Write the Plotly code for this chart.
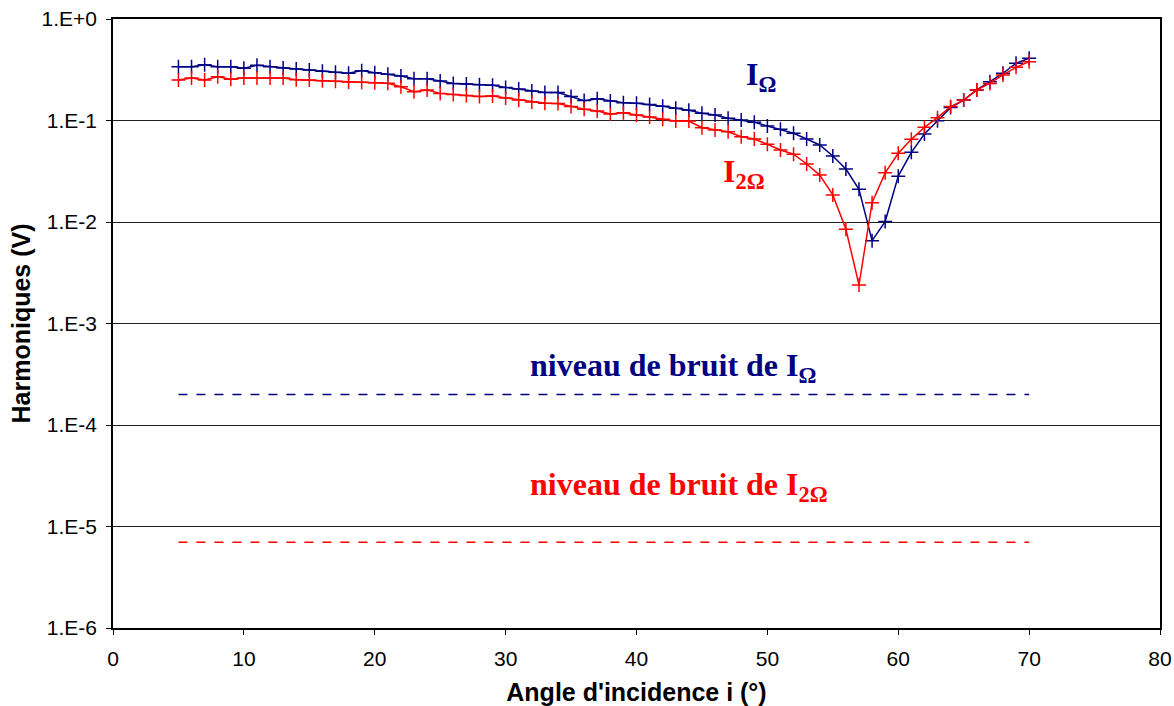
import plotly.graph_objects as go

angles = list(range(5, 71))

i_omega = [0.339, 0.339, 0.355, 0.339, 0.339, 0.327, 0.350, 0.339, 0.329, 0.322,
           0.315, 0.305, 0.298, 0.292, 0.310, 0.296, 0.285, 0.274, 0.258, 0.258,
           0.245, 0.232, 0.229, 0.225, 0.222, 0.212, 0.204, 0.195, 0.189, 0.189,
           0.172, 0.157, 0.164, 0.156, 0.150, 0.148, 0.144, 0.138, 0.132, 0.126,
           0.118, 0.113, 0.105, 0.101, 0.096, 0.0883, 0.0819, 0.0748, 0.0658, 0.0574,
           0.0447, 0.0333, 0.0210, 0.00655, 0.0101, 0.0283, 0.0486, 0.0736, 0.0995, 0.134,
           0.159, 0.200, 0.241, 0.292, 0.366, 0.410]

i_2omega = [0.251, 0.262, 0.251, 0.270, 0.255, 0.262, 0.262, 0.262, 0.262, 0.252,
            0.251, 0.247, 0.243, 0.239, 0.238, 0.236, 0.233, 0.215, 0.192, 0.200,
            0.185, 0.180, 0.176, 0.172, 0.174, 0.167, 0.159, 0.152, 0.148, 0.147,
            0.137, 0.129, 0.124, 0.116, 0.119, 0.113, 0.108, 0.103, 0.0989, 0.0989,
            0.0849, 0.0806, 0.0776, 0.0692, 0.0658, 0.0583, 0.0512, 0.0465, 0.0373, 0.0290,
            0.0185, 0.00847, 0.00240, 0.0155, 0.0305, 0.0475, 0.0652, 0.0857, 0.1066, 0.137,
            0.159, 0.200, 0.232, 0.281, 0.334, 0.380]

noise_x = [5, 70]
noise_omega = [2.0e-4, 2.0e-4]
noise_2omega = [7.0e-6, 7.0e-6]

y_tickvals = [1, 1e-1, 1e-2, 1e-3, 1e-4, 1e-5, 1e-6]
y_ticktext = ["1.E+0", "1.E-1", "1.E-2", "1.E-3", "1.E-4", "1.E-5", "1.E-6"]

BLUE = "#000080"
RED = "#FF0000"

fig = go.Figure()
fig.add_trace(go.Scatter(x=angles, y=i_omega, mode="lines+markers",
                         line=dict(color=BLUE, width=1.5),
                         marker=dict(symbol="cross-thin", size=10,
                                     line=dict(color=BLUE, width=1.5), color=BLUE)))
fig.add_trace(go.Scatter(x=angles, y=i_2omega, mode="lines+markers",
                         line=dict(color=RED, width=1.5),
                         marker=dict(symbol="cross-thin", size=10,
                                     line=dict(color=RED, width=1.5), color=RED)))
fig.add_trace(go.Scatter(x=noise_x, y=noise_omega, mode="lines",
                         line=dict(color=BLUE, width=1.5, dash="dash")))
fig.add_trace(go.Scatter(x=noise_x, y=noise_2omega, mode="lines",
                         line=dict(color=RED, width=1.5, dash="dash")))

serif = "Liberation Serif, Times New Roman, serif"
ann = [
    dict(x=48.35, y=-0.57, text="<b>I<sub>Ω</sub></b>", color=BLUE),
    dict(x=46.59, y=-1.52, text="<b>I<sub>2Ω</sub></b>", color=RED),
    dict(x=31.86, y=-3.43, text="<b>niveau de bruit de I<sub>Ω</sub></b>", color=BLUE),
    dict(x=31.86, y=-4.61, text="<b>niveau de bruit de I<sub>2Ω</sub></b>", color=RED),
]
for a in ann:
    fig.add_annotation(x=a["x"], y=a["y"], text=a["text"], showarrow=False,
                       font=dict(family=serif, size=32, color=a["color"]),
                       xanchor="left", yanchor="middle", xshift=-2)

fig.update_layout(
    width=1174, height=706,
    margin=dict(l=113, r=14, t=19, b=78),
    paper_bgcolor="white", plot_bgcolor="white",
    showlegend=False,
    font=dict(family="Liberation Sans, Arial, sans-serif", size=21, color="black"),
)
fig.update_xaxes(range=[0, 80], dtick=10, tick0=0, automargin=False,
                 showline=True, linecolor="black", linewidth=1.5, mirror=True,
                 ticks="outside", ticklen=5, tickcolor="black",
                 ticklabelstandoff=6,
                 showgrid=False, zeroline=False,
                 title=dict(text="<b>Angle d'incidence i (°)</b>",
                            font=dict(size=25), standoff=18))
fig.update_yaxes(type="log", range=[-6, 0], automargin=False,
                 tickvals=y_tickvals, ticktext=y_ticktext,
                 showline=True, linecolor="black", linewidth=1.5, mirror=True,
                 ticks="outside", ticklen=5, tickcolor="black",
                 ticklabelstandoff=5,
                 showgrid=True, gridcolor="#202020", gridwidth=1,
                 zeroline=False,
                 title=dict(text="<b>Harmoniques (V)</b>",
                            font=dict(size=25), standoff=4))

fig.write_html("out.html", config={"displayModeBar": False},
               post_script="document.body.style.margin='0';document.body.style.padding='0';"
                           "document.body.style.overflow='hidden';"
                           "document.documentElement.style.overflow='hidden';")
